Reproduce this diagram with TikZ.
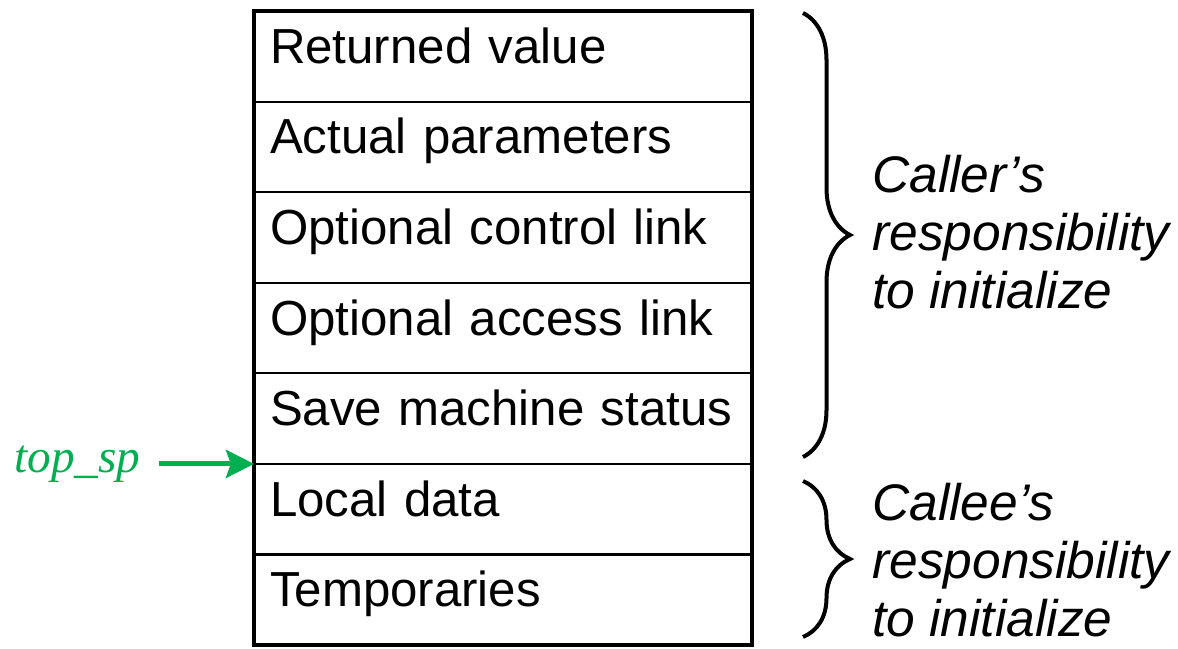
\documentclass[tikz,border=0pt]{standalone}
\usepackage{fontspec}
\setmainfont{Liberation Sans}
\newfontfamily\spfont{Liberation Serif}
\usetikzlibrary{positioning,decorations.pathreplacing,arrows.meta}
\definecolor{spgreen}{RGB}{0,176,80}

\begin{document}
\begin{tikzpicture}[x=0.025cm,y=-0.025cm,
  cell/.style={draw,line width=1.5pt,outer sep=0pt,minimum width=12.45cm,minimum height=2.264cm,
    inner xsep=0.4cm,text width=11.65cm,align=left,text height=1.0em,text depth=0em,
    font=\fontsize{35}{42}\selectfont},
  frame/.style={line width=2.85pt},
  brace/.style={decorate,decoration={brace,amplitude=1.175cm},line width=2.85pt},
  note/.style={anchor=west,inner sep=0pt,align=left,font=\fontsize{36.6}{41.3}\selectfont\itshape}]
\useasboundingbox (0,0) rectangle (1178,649);
%stack of the activation record
\node[cell,anchor=north west] (r1) at (254,11) {Returned value};
\node[cell,below=0pt of r1] (r2) {Actual parameters};
\node[cell,below=0pt of r2] (r3) {Optional control link};
\node[cell,below=0pt of r3] (r4) {Optional access link};
\node[cell,below=0pt of r4] (r5) {Save machine status};
\node[cell,below=0pt of r5] (r6) {Local data};
\node[cell,below=0pt of r6] (r7) {Temporaries};
\draw[frame] (r1.north west) rectangle (r7.south east);
%top_sp pointer
\node[left=2.83cm of r6.north west,anchor=east,inner sep=0pt,text=spgreen,
  font=\spfont\itshape\fontsize{33.6}{40}\selectfont] (sp) {top\_sp};
\draw[spgreen,line width=3.6pt,shorten <=0.45cm,-{Stealth[length=0.7cm,width=0.7cm,inset=0.12cm]}]
  (sp.east) -- (r6.north west);
%braces
\coordinate (b1top) at (803,13);
\coordinate (b1bot) at (803,457);
\coordinate (b2top) at (803,481);
\coordinate (b2bot) at (803,637);
\draw[brace] (b1top) -- (b1bot);
\draw[brace] (b2top) -- (b2bot);
%text
\node[note] (caller) at (872,232) {Caller’s\\responsibility\\to initialize};
\node[note] (callee) at (872,560) {Callee’s\\responsibility\\to initialize};
\end{tikzpicture}
\end{document}
